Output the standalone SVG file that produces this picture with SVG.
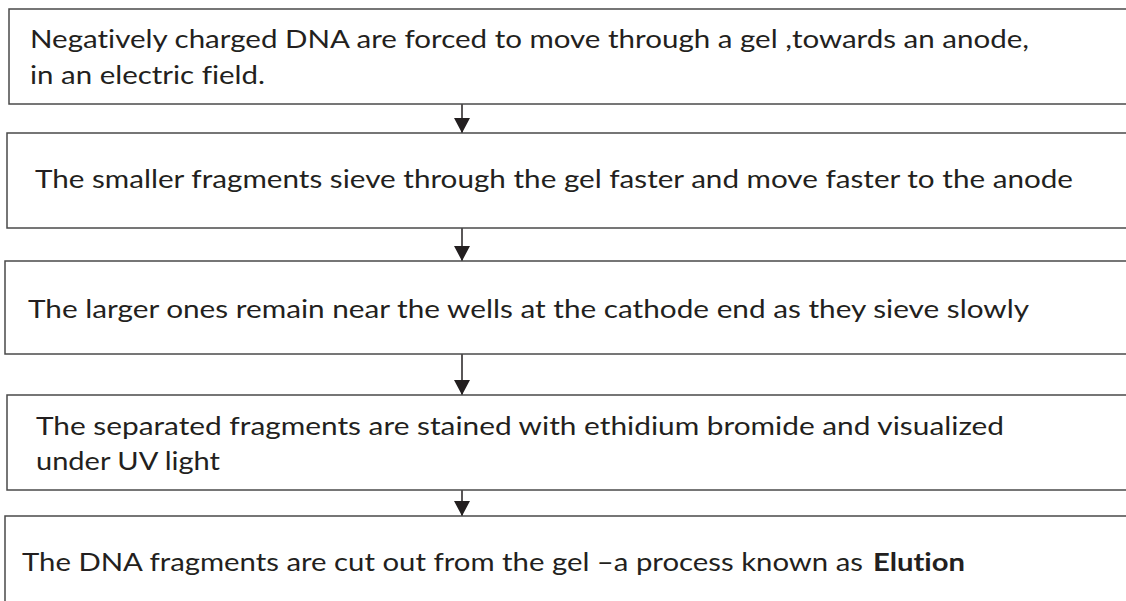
<svg xmlns="http://www.w3.org/2000/svg" width="1126" height="601" viewBox="0 0 1126 601">
<style>
.box{fill:#fff;stroke:#4a4a4a;stroke-width:1.5}
.t{font-family:Lato,"Open Sans","Liberation Sans",sans-serif;font-size:25px;fill:#231f20;font-variant-ligatures:none;font-feature-settings:"liga" 0,"dlig" 0}
.b{font-weight:bold}
.c{stroke:#231f20;stroke-width:1.5;fill:none}
</style>
<defs>
<marker id="ah" markerWidth="16" markerHeight="15" refX="8" refY="15" orient="0" markerUnits="userSpaceOnUse">
<path d="M0,0 L16,0 L8,15 Z" fill="#231f20"/>
</marker>
</defs>
<rect width="1126" height="601" fill="#fff"/>
<g id="connectors">
<line class="c" x1="462" y1="104" x2="462" y2="133" marker-end="url(#ah)"/>
<line class="c" x1="462" y1="228" x2="462" y2="261" marker-end="url(#ah)"/>
<line class="c" x1="462" y1="354" x2="462" y2="395" marker-end="url(#ah)"/>
<line class="c" x1="462" y1="490" x2="462" y2="516" marker-end="url(#ah)"/>
</g>
<g id="node1">
<rect class="box" x="9" y="9" width="1140" height="95"/>
<text class="t" x="30" y="48" textLength="999" lengthAdjust="spacingAndGlyphs">Negatively charged DNA are forced to move through a gel ,towards an anode,</text>
<text class="t" x="30" y="84" textLength="235" lengthAdjust="spacingAndGlyphs">in an electric field.</text>
</g>
<g id="node2">
<rect class="box" x="7" y="133" width="1140" height="95"/>
<text class="t" x="35" y="188" textLength="1038" lengthAdjust="spacingAndGlyphs">The smaller fragments sieve through the gel faster and move faster to the anode</text>
</g>
<g id="node3">
<rect class="box" x="5" y="261" width="1140" height="93"/>
<text class="t" x="28" y="318" textLength="1001" lengthAdjust="spacingAndGlyphs">The larger ones remain near the wells at the cathode end as they sieve slowly</text>
</g>
<g id="node4">
<rect class="box" x="7" y="395" width="1140" height="95"/>
<text class="t" x="36" y="435" textLength="968" lengthAdjust="spacingAndGlyphs">The separated fragments are stained with ethidium bromide and visualized</text>
<text class="t" x="36" y="470" textLength="184" lengthAdjust="spacingAndGlyphs">under UV light</text>
</g>
<g id="node5">
<rect class="box" x="5" y="516" width="1140" height="100"/>
<text class="t" y="571"><tspan x="22" textLength="841" lengthAdjust="spacingAndGlyphs">The DNA fragments are cut out from the gel –a process known as</tspan> <tspan class="b" x="873" textLength="92" lengthAdjust="spacingAndGlyphs">Elution</tspan></text>
</g>
</svg>
